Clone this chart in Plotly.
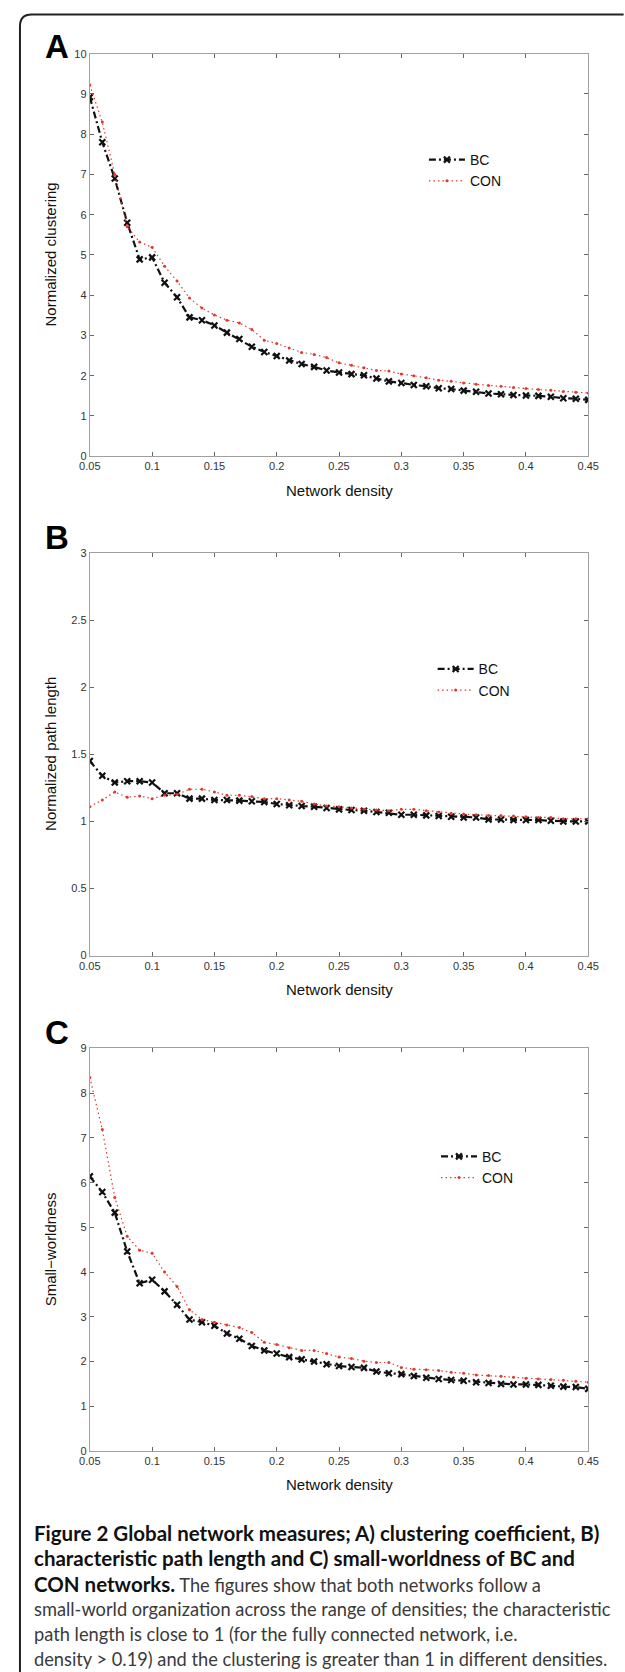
import plotly.graph_objects as go

# ---------------- data ----------------
density = [0.05, 0.06, 0.07, 0.08, 0.09, 0.10, 0.11, 0.12, 0.13, 0.14,
           0.15, 0.16, 0.17, 0.18, 0.19, 0.20, 0.21, 0.22, 0.23, 0.24,
           0.25, 0.26, 0.27, 0.28, 0.29, 0.30, 0.31, 0.32, 0.33, 0.34,
           0.35, 0.36, 0.37, 0.38, 0.39, 0.40, 0.41, 0.42, 0.43, 0.44, 0.45]

clust_bc = [8.92, 7.80, 6.90, 5.80, 4.89, 4.94, 4.31, 3.95, 3.45, 3.38,
            3.25, 3.07, 2.91, 2.72, 2.59, 2.49, 2.38, 2.29, 2.22, 2.13,
            2.08, 2.04, 2.01, 1.93, 1.86, 1.82, 1.77, 1.74, 1.69, 1.67,
            1.63, 1.60, 1.56, 1.54, 1.52, 1.51, 1.50, 1.48, 1.44, 1.43, 1.40]
clust_con = [9.22, 8.30, 7.00, 5.70, 5.32, 5.19, 4.72, 4.35, 3.93, 3.68,
             3.51, 3.38, 3.31, 3.15, 2.88, 2.80, 2.69, 2.58, 2.53, 2.45,
             2.32, 2.26, 2.20, 2.13, 2.12, 2.04, 2.00, 1.95, 1.89, 1.86,
             1.82, 1.79, 1.76, 1.74, 1.71, 1.68, 1.66, 1.64, 1.61, 1.59, 1.57]

path_bc = [1.45, 1.34, 1.29, 1.30, 1.30, 1.29, 1.21, 1.21, 1.17, 1.17,
           1.16, 1.16, 1.155, 1.15, 1.145, 1.13, 1.12, 1.115, 1.11, 1.10,
           1.09, 1.085, 1.08, 1.07, 1.065, 1.05, 1.05, 1.045, 1.04, 1.035,
           1.03, 1.03, 1.015, 1.015, 1.01, 1.01, 1.01, 1.005, 1.0, 1.0, 1.0]
path_con = [1.11, 1.16, 1.22, 1.18, 1.19, 1.17, 1.195, 1.20, 1.24, 1.24,
            1.22, 1.195, 1.195, 1.185, 1.17, 1.17, 1.16, 1.15, 1.13, 1.115,
            1.11, 1.10, 1.09, 1.085, 1.08, 1.09, 1.09, 1.08, 1.07, 1.06,
            1.055, 1.05, 1.045, 1.045, 1.04, 1.035, 1.03, 1.03, 1.02, 1.02, 1.02]

sw_bc = [6.14, 5.79, 5.33, 4.46, 3.75, 3.83, 3.57, 3.27, 2.94, 2.88,
         2.80, 2.63, 2.51, 2.35, 2.25, 2.18, 2.10, 2.05, 2.00, 1.94,
         1.90, 1.88, 1.86, 1.78, 1.74, 1.72, 1.68, 1.64, 1.61, 1.59,
         1.57, 1.54, 1.52, 1.50, 1.49, 1.49, 1.48, 1.46, 1.44, 1.43, 1.39]
sw_con = [8.35, 7.19, 5.67, 4.80, 4.49, 4.42, 4.00, 3.68, 3.16, 2.94,
          2.88, 2.82, 2.76, 2.65, 2.43, 2.38, 2.31, 2.25, 2.25, 2.18,
          2.10, 2.07, 2.01, 1.98, 1.98, 1.87, 1.83, 1.82, 1.80, 1.76,
          1.74, 1.70, 1.69, 1.67, 1.65, 1.63, 1.61, 1.60, 1.58, 1.56, 1.54]

x_tickvals = [0.05, 0.1, 0.15, 0.2, 0.25, 0.3, 0.35, 0.4, 0.45]
x_ticktext = ["0.05", "0.1", "0.15", "0.2", "0.25", "0.3", "0.35", "0.4", "0.45"]
yA_ticks = [0, 1, 2, 3, 4, 5, 6, 7, 8, 9, 10]
yB_ticks = [0, 0.5, 1, 1.5, 2, 2.5, 3]
yB_ticktext = ["0", "0.5", "1", "1.5", "2", "2.5", "3"]
yC_ticks = [0, 1, 2, 3, 4, 5, 6, 7, 8, 9]

panel_letters = ["A", "B", "C"]
y_titles = ["Normalized clustering", "Normalized path length", "Small\u2212worldness"]
x_title = "Network density"
series_names = ["BC", "CON"]

BOLD = '<span style="font-size:20.5px;color:#111"><b>%s</b></span>'
caption_lines = [
    BOLD % "Figure 2 Global network measures; A) clustering coefficient, B)",
    BOLD % "characteristic path length and C) small-worldness of BC and",
    BOLD % "CON networks." + " The figures show that both networks follow a",
    "small-world organization across the range of densities; the characteristic",
    "path length is close to 1 (for the fully connected network, i.e.",
    "density &gt; 0.19) and the clustering is greater than 1 in different densities.",
]

# ---------------- layout geometry (pixels) ----------------
W, H = 625, 1672
X0, X1 = 81.7, 598.3
panels_px = [(48.0, 453.5), (551.0, 956.5), (1050.0, 1455.5)]
letter_y = [41, 535, 1033.5]
legend_px = [(428, 139), (437, 652), (440.5, 1143)]
cap_y = [1538, 1563.5, 1589, 1614.5, 1640, 1665]


def fx(p):
    return p / W


def fy(p):
    return 1 - p / H


FONT = "Liberation Sans, Arial, sans-serif"
AXIS_COL = "#a0a0a0"
BLACK = "#111111"
RED = "#e0392b"

fig = go.Figure()

data_sets = [(clust_bc, clust_con), (path_bc, path_con), (sw_bc, sw_con)]
for i, (bc, con) in enumerate(data_sets):
    sfx = "" if i == 0 else str(i + 1)
    leg = "legend" if i == 0 else "legend" + str(i + 1)
    fig.add_trace(go.Scatter(
        x=density, y=bc, name=series_names[0], mode="lines+markers",
        xaxis="x" + sfx, yaxis="y" + sfx, legend=leg,
        line=dict(color=BLACK, width=2.2, dash="7px,3px,2px,3px"),
        marker=dict(symbol="x-thin", size=6, color=BLACK,
                    line=dict(color=BLACK, width=2.2)),
    ))
    fig.add_trace(go.Scatter(
        x=density, y=con, name=series_names[1], mode="lines+markers",
        xaxis="x" + sfx, yaxis="y" + sfx, legend=leg,
        line=dict(color=RED, width=1.2, dash="1.5px,3px"),
        marker=dict(symbol="circle", size=3, color=RED),
    ))

y_tick_sets = [(yA_ticks, [str(v) for v in yA_ticks], [0, 10]),
               (yB_ticks, yB_ticktext, [0, 3]),
               (yC_ticks, [str(v) for v in yC_ticks], [0, 9])]

layout = dict(
    width=W, height=H, autosize=False,
    margin=dict(l=0, r=0, t=0, b=0),
    paper_bgcolor="white", plot_bgcolor="white",
    font=dict(family=FONT, color="#222"),
    hovermode=False,
)

annotations = []
shapes = []
for i, (top, bot) in enumerate(panels_px):
    sfx = "" if i == 0 else str(i + 1)
    tv, tt, rng = y_tick_sets[i]
    common = dict(showline=True, linecolor=AXIS_COL, linewidth=1, mirror="ticks",
                  ticks="inside", ticklen=4, tickcolor="#666", tickwidth=1,
                  showgrid=False, zeroline=False,
                  tickfont=dict(family=FONT, size=11, color="#333"))
    layout["xaxis" + sfx] = dict(domain=[fx(X0), fx(X1)], range=[0.05, 0.45],
                                 anchor="y" + sfx, tickvals=x_tickvals,
                                 ticktext=x_ticktext, **common)
    layout["yaxis" + sfx] = dict(domain=[fy(bot), fy(top)], range=rng,
                                 anchor="x" + sfx, tickvals=tv, ticktext=tt,
                                 **common)
    lx, ly = legend_px[i]
    layout["legend" if i == 0 else "legend" + str(i + 1)] = dict(
        x=fx(lx), y=fy(ly), xanchor="left", yanchor="top",
        bgcolor="rgba(0,0,0,0)", borderwidth=0,
        font=dict(family=FONT, size=14, color="#111"),
        itemwidth=36, tracegroupgap=0,
    )
    annotations.append(dict(text="<b>%s</b>" % panel_letters[i], x=fx(48),
                            y=fy(letter_y[i]), xref="paper", yref="paper",
                            showarrow=False, xanchor="center", yanchor="middle",
                            font=dict(family="Liberation Sans, Arial", size=33,
                                      color="black")))
    annotations.append(dict(text=x_title, x=fx((X0 + X1) / 2), y=fy(bot + 34),
                            xref="paper", yref="paper", showarrow=False,
                            xanchor="center", yanchor="middle",
                            font=dict(family=FONT, size=15, color="#111")))
    annotations.append(dict(text=y_titles[i], x=fx(41), y=fy((top + bot) / 2),
                            xref="paper", yref="paper", showarrow=False,
                            textangle=-90, xanchor="center", yanchor="middle",
                            font=dict(family=FONT, size=15, color="#111")))

for line, yy in zip(caption_lines, cap_y):
    annotations.append(dict(text=line, x=fx(21.5), y=fy(yy), xref="paper",
                            yref="paper", showarrow=False, xanchor="left",
                            yanchor="middle", align="left",
                            font=dict(family="Lato, Open Sans, sans-serif",
                                      size=18.25, color="#3a3a3a")))

# outer frame with rounded top-left corner
r = 12
bx, by = 9.3, 8.5
path = "M {a},{b} L {a},{c} Q {a},{d} {e},{d} L {f},{d}".format(
    a=fx(bx), b=fy(H + 10), c=fy(by + r), d=fy(by), e=fx(bx + r), f=fx(W + 10))
shapes.append(dict(type="path", path=path, xref="paper", yref="paper",
                   line=dict(color="#222", width=2)))

layout["annotations"] = annotations
layout["shapes"] = shapes
fig.update_layout(**layout)
fig.write_html("out.html",
               config={"displayModeBar": False, "staticPlot": True},
               post_script="document.body.style.margin='0';"
                           "document.body.style.padding='0';")
